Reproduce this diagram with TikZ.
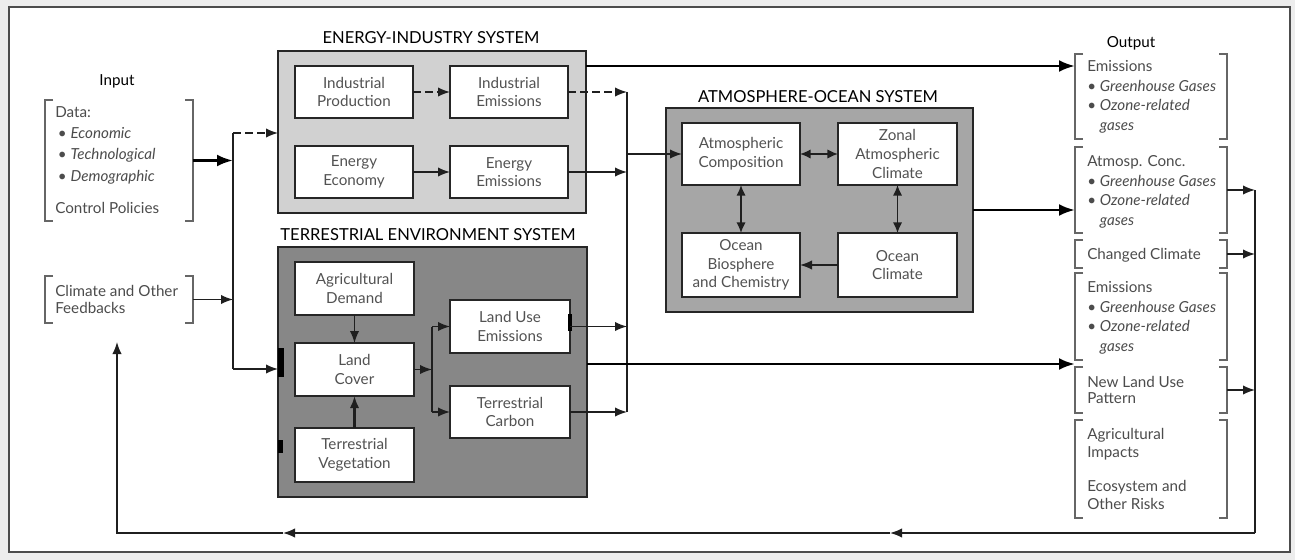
\documentclass[tikz,border=0pt]{standalone}
\usepackage{fontspec}
\setmainfont{Lato}
\usetikzlibrary{arrows.meta}
\begin{document}
\begin{tikzpicture}[x=0.75pt,y=-0.75pt,
  sz/.style 2 args={minimum width=#1*0.75pt, minimum height=#2*0.75pt, inner sep=0pt, outer sep=0pt},
  sysbox/.style={draw=black!85, line width=1.1pt},
  inbox/.style={draw=black!85, fill=white, line width=1pt, align=center, text=black!68,
                font=\fontsize{11.4}{14}\selectfont},
  title/.style={font=\fontsize{12.4}{14}\selectfont, text=black, inner sep=0pt},
  brkbox/.style={inner sep=0pt, outer sep=0pt},
  brk/.style={draw=black!60, line width=0.9pt},
  txt/.style={anchor=north west, inner sep=0pt, align=left, text=black!70},
  ln/.style={draw=black!88, line width=1.1pt},
  arr/.style={ln, -{Latex[length=9pt,width=7pt]}},
  darr/.style={ln, {Latex[length=8pt,width=7pt]}-{Latex[length=8pt,width=7pt]}},
  dsh/.style={ln, dash pattern=on 6pt off 3pt, -{Latex[length=9pt,width=7pt]}},
  tarr/.style={draw=black, line width=2.2pt, -{Latex[length=12pt,width=9pt]}},
  edgetab/.style={fill=black, draw=none}
]
\useasboundingbox (0,0) rectangle (1295,560);
% page and outer frame
\fill[black!7] (0,0) rectangle (1295,560);
\fill[white] (9,7) rectangle (1290,552);
\draw[black!70, line width=1pt] (9,7) rectangle (1290,552);

% ---------------- input column ----------------
\node[title, font=\fontsize{11.4}{14}\selectfont] (inT) at (117,81) {Input};
\node[brkbox, sz={148}{121}] (D) at (119,160.5) {};
\node[brkbox, sz={148}{47}] (F) at (119,299.5) {};
\node[txt, font=\fontsize{11.4}{16}\selectfont] (Dt) at (55,106)
  {Data:\\
   \hspace*{2pt}\textbullet\ \textit{Economic}\\
   \hspace*{2pt}\textbullet\ \textit{Technological}\\
   \hspace*{2pt}\textbullet\ \textit{Demographic}\\[8pt]
   Control Policies};
\node[txt, font=\fontsize{11.4}{12.8}\selectfont] (Ft) at (55,285)
  {Climate and Other\\Feedbacks};

% ---------------- energy-industry system ----------------
\node[title] (EIT) at (431,38) {ENERGY-INDUSTRY SYSTEM};
\node[sysbox, fill=black!18, sz={308}{162}] (EIS) at (432,132) {};
\node[inbox, sz={118}{52}] (IP) at (354,92) {Industrial\\Production};
\node[inbox, sz={118}{52}] (IE) at (509,92) {Industrial\\Emissions};
\node[inbox, sz={118}{52}] (EE) at (354,172) {Energy\\Economy};
\node[inbox, sz={118}{52}] (EM) at (509,172) {Energy\\Emissions};
\draw[dsh] (IP) -- (IE);
\draw[arr] (EE) -- (EM);

% ---------------- terrestrial environment system ----------------
\node[title] (TET) at (428,235) {TERRESTRIAL ENVIRONMENT SYSTEM};
\node[sysbox, fill=black!47, sz={309}{250}] (TES) at (432.5,372) {};
\node[inbox, sz={119}{53}] (AD) at (354.5,288.5) {Agricultural\\Demand};
\node[inbox, sz={119}{53}] (LC) at (354.5,369.5) {Land\\Cover};
\node[inbox, sz={119}{54}] (TV) at (354.5,455) {Terrestrial\\Vegetation};
\node[inbox, sz={120}{53}] (LU) at (510,326.5) {Land Use\\Emissions};
\node[inbox, sz={120}{52}] (TC) at (510,412) {Terrestrial\\Carbon};
\coordinate (f0) at (432,369.5);
\coordinate (f1) at (432,326.5);
\coordinate (f2) at (432,412);
\draw[arr] (AD) -- (LC);
\draw[arr, line width=1.6pt] (TV) -- (LC);
\draw[arr] (LC) -- (f0);
\draw[ln] (f1) -- (f2);
\draw[arr] (f1) -- (LU);
\draw[arr] (f2) -- (TC);
% small tabs on the box edges
\fill[edgetab] (278,348) rectangle (284,377);
\fill[edgetab] (278,440) rectangle (283,453);
\fill[edgetab] (568,314) rectangle (572,331);

% ---------------- atmosphere-ocean system ----------------
\node[title] (AOT) at (818,97) {ATMOSPHERE-OCEAN SYSTEM};
\node[sysbox, fill=black!35, sz={307}{204}] (AO) at (819.5,210) {};
\node[inbox, sz={118}{62}] (AC) at (741,154) {Atmospheric\\Composition};
\node[inbox, sz={119}{62}] (ZA) at (897.5,154) {Zonal\\Atmospheric\\Climate};
\node[inbox, sz={118}{64}] (OB) at (741,265) {Ocean\\Biosphere\\and Chemistry};
\node[inbox, sz={119}{64}] (OC) at (897.5,265) {Ocean\\Climate};
\draw[darr] (AC) -- (ZA);
\draw[darr] (AC) -- (OB);
\draw[darr] (ZA) -- (OC);
\draw[arr] (OC) -- (OB);

% ---------------- output column ----------------
\node[title, font=\fontsize{11.4}{14}\selectfont] (outT) at (1131,43) {Output};
\node[brkbox, sz={152}{85}] (O1) at (1151,96.5) {};
\node[brkbox, sz={152}{86}] (O2) at (1151,190) {};
\node[brkbox, sz={152}{28}] (O3) at (1151,254) {};
\node[brkbox, sz={152}{87}] (O4) at (1151,316.5) {};
\node[brkbox, sz={152}{46}] (O5) at (1151,390) {};
\node[brkbox, sz={152}{98}] (O6) at (1151,469) {};
\node[txt, font=\fontsize{11.4}{14.8}\selectfont] (O1t) at (1087,60)
  {Emissions\\
   \textbullet\ \textit{Greenhouse Gases}\\
   \textbullet\ \textit{Ozone-related}\\
   \phantom{\textbullet\ }\textit{gases}};
\node[txt, font=\fontsize{11.4}{14.8}\selectfont] (O2t) at (1087,155)
  {Atmosp. Conc.\\
   \textbullet\ \textit{Greenhouse Gases}\\
   \textbullet\ \textit{Ozone-related}\\
   \phantom{\textbullet\ }\textit{gases}};
\node[txt, font=\fontsize{11.4}{13}\selectfont] (O3t) at (1087,248) {Changed Climate};
\node[txt, font=\fontsize{11.4}{14.8}\selectfont] (O4t) at (1087,281)
  {Emissions\\
   \textbullet\ \textit{Greenhouse Gases}\\
   \textbullet\ \textit{Ozone-related}\\
   \phantom{\textbullet\ }\textit{gases}};
\node[txt, font=\fontsize{11.4}{12}\selectfont] (O5t) at (1087,376) {New Land Use\\Pattern};
\node[txt, font=\fontsize{11.4}{13.5}\selectfont] (O6t) at (1087,428)
  {Agricultural\\Impacts\\[12pt]Ecosystem and\\Other Risks};

% square brackets round the input and output groups
\foreach \b in {D,F,O1,O2,O3,O4,O5,O6}{
  \draw[brk] ([xshift=6pt]\b.north west) -- (\b.north west) -- (\b.south west) -- ([xshift=6pt]\b.south west);
  \draw[brk] ([xshift=-6pt]\b.north east) -- (\b.north east) -- (\b.south east) -- ([xshift=-6pt]\b.south east);
}

% ---------------- connectors: input side ----------------
\coordinate (j0) at (233,133);
\coordinate (j1) at (233,160.5);
\coordinate (j2) at (233,299.5);
\coordinate (j3) at (233,369);
\draw[ln] (j0) -- (j3);
\draw[tarr] (D) -- (j1);
\draw[arr] (F) -- (j2);
\draw[dsh] (j0) -- (EIS.west |- j0);
\draw[arr] (j3) -- (TES.west |- j3);

% ---------------- connectors: emissions collector ----------------
\coordinate (v1) at (627,92);
\coordinate (v2) at (627,172);
\coordinate (v3) at (627,326.5);
\coordinate (v4) at (627,412);
\coordinate (v5) at (627,154);
\draw[ln] (v1) -- (v4);
\draw[dsh] (IE) -- (v1);
\draw[arr] (EM) -- (v2);
\draw[arr] (LU) -- (v3);
\draw[arr] (TC) -- (v4);
\draw[arr] (v5) -- (AC);

% ---------------- connectors: to outputs ----------------
\coordinate (e1) at (586,66);
\coordinate (t1) at (587,364);
\draw[tarr] (e1) -- (O1.west |- e1);
\draw[tarr] (AO.east) -- (O2.west |- AO.east);
\draw[tarr] (t1) -- (O4.west |- t1);

% ---------------- feedback loop ----------------
\coordinate (r1) at (1255,190);
\coordinate (r2) at (1255,254);
\coordinate (r3) at (1255,390);
\coordinate (r4) at (1255,533);
\coordinate (b1) at (890,533);
\coordinate (b2) at (283,533);
\coordinate (b3) at (117,533);
\coordinate (b4) at (117,342);
\draw[arr] (O2) -- (r1);
\draw[arr] (O3) -- (r2);
\draw[arr] (O5) -- (r3);
\draw[ln] (r1) -- (r4);
\draw[arr] (r4) -- (b1);
\draw[arr] (b1) -- (b2);
\draw[arr] (b2) -- (b3) -- (b4);
\end{tikzpicture}
\end{document}
